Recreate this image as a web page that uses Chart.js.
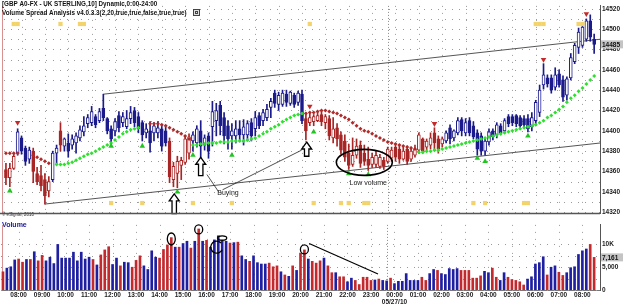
<!DOCTYPE html>
<html>
<head>
<meta charset="utf-8">
<script src="https://cdn.jsdelivr.net/npm/chart.js@4.4.1/dist/chart.umd.min.js"></script>
<style>
  html, body { margin: 0; padding: 0; background: #fff; }
  #wrap { position: relative; width: 625px; height: 306px; overflow: hidden; background: #fff; }
  #priceBox { position: absolute; left: 0; top: 0; }
  #volBox { position: absolute; left: 0; top: 219px; }
</style>
</head>
<body>
<div id="wrap">
  <div id="priceBox"><canvas id="priceChart" width="625" height="219"></canvas></div>
  <div id="volBox"><canvas id="volumeChart" width="625" height="87"></canvas></div>
</div>
<script>
// 10-minute bars, 07:20 -> 08:30 next day
const opens = [
  14362,14354,14363,14378,14393,14383,14372,14380,14358,14356,
  14352,14341,14352,14378,14400,14385,14388,14386,14388,14393,
  14399,14407,14408,14414,14410,14422,14412,14402,14400,14415,
  14408,14404,14412,14420,14414,14408,14398,14400,14398,14398,
  14402,14400,14390,14352,14358,14366,14369,14378,14390,14388,
  14400,14386,14395,14404,14410,14425,14413,14405,14395,14395,
  14402,14396,14396,14408,14402,14415,14410,14413,14423,14437,
  14426,14426,14436,14427,14435,14428,14436,14412,14408,14409,
  14410,14416,14408,14412,14393,14403,14396,14390,14378,14367,
  14376,14386,14378,14372,14367,14367,14365,14371,14370,14373,
  14384,14382,14372,14382,14372,14376,14381,14392,14384,14386,
  14398,14392,14387,14390,14403,14393,14398,14411,14398,14410,
  14405,14398,14395,14380,14389,14400,14396,14405,14400,14414,
  14414,14415,14413,14412,14412,14404,14410,14418,14445,14452,
  14452,14443,14456,14450,14435,14452,14468,14482,14484,14490,
  14508,14490
];
const highs = [
  14368,14368,14378,14402,14395,14385,14384,14383,14364,14366,
  14358,14355,14380,14386,14408,14393,14397,14396,14398,14405,
  14414,14416,14424,14416,14422,14436,14413,14405,14412,14419,
  14418,14420,14424,14423,14418,14410,14407,14409,14408,14409,
  14405,14404,14393,14369,14375,14374,14395,14397,14399,14405,
  14410,14396,14398,14429,14427,14429,14418,14410,14407,14410,
  14410,14411,14410,14412,14419,14418,14421,14426,14432,14440,
  14438,14440,14440,14439,14437,14439,14440,14418,14418,14416,
  14418,14419,14416,14415,14413,14407,14399,14396,14387,14393,
  14392,14390,14386,14384,14378,14380,14377,14374,14384,14384,
  14387,14386,14384,14385,14384,14386,14398,14393,14392,14398,
  14403,14395,14394,14400,14406,14401,14413,14413,14412,14413,
  14409,14401,14398,14392,14402,14402,14408,14407,14412,14416,
  14416,14416,14415,14415,14416,14418,14430,14445,14466,14455,
  14455,14462,14460,14454,14453,14476,14486,14501,14504,14510,
  14514,14495
];
const lows = [
  14347,14345,14362,14376,14377,14366,14368,14349,14347,14341,
  14328,14335,14350,14367,14380,14380,14374,14382,14378,14390,
  14395,14403,14405,14403,14408,14410,14397,14388,14395,14399,
  14404,14402,14407,14404,14398,14390,14393,14379,14390,14393,
  14380,14385,14349,14345,14344,14352,14367,14372,14380,14384,
  14373,14381,14373,14385,14395,14396,14387,14382,14382,14388,
  14390,14386,14390,14390,14395,14402,14405,14410,14413,14423,
  14420,14424,14424,14425,14423,14425,14407,14391,14405,14405,
  14409,14405,14402,14391,14388,14385,14377,14370,14362,14365,
  14373,14364,14366,14361,14364,14364,14363,14362,14368,14370,
  14370,14368,14371,14367,14370,14374,14378,14378,14381,14382,
  14381,14378,14384,14388,14387,14390,14396,14395,14395,14395,
  14392,14376,14376,14376,14386,14391,14393,14396,14398,14404,
  14405,14404,14402,14404,14399,14400,14407,14414,14441,14443,
  14437,14440,14443,14429,14430,14450,14466,14476,14482,14488,
  14488,14476
];
const closes = [
  14354,14363,14375,14399,14380,14370,14381,14360,14350,14346,
  14336,14350,14378,14383,14386,14392,14380,14392,14395,14401,
  14405,14413,14419,14406,14419,14413,14400,14392,14409,14403,
  14414,14412,14418,14408,14402,14396,14402,14388,14405,14403,
  14385,14388,14355,14365,14370,14371,14392,14394,14396,14402,
  14385,14393,14380,14419,14420,14405,14395,14392,14400,14402,
  14396,14404,14407,14395,14413,14405,14418,14421,14429,14427,
  14435,14437,14428,14438,14426,14437,14410,14400,14413,14414,
  14415,14409,14414,14395,14402,14392,14381,14374,14366,14376,
  14385,14368,14370,14366,14374,14376,14374,14365,14382,14381,
  14374,14372,14380,14370,14380,14382,14396,14380,14390,14393,
  14388,14382,14392,14398,14392,14400,14410,14400,14408,14398,
  14394,14382,14380,14390,14399,14394,14406,14398,14410,14407,
  14408,14407,14405,14406,14402,14413,14428,14440,14455,14446,
  14440,14455,14445,14433,14451,14472,14484,14497,14502,14508,
  14492,14485
];
const volumes = [
  4000,4800,5100,6600,6800,6100,6700,6700,8400,6400,
  7600,6400,7200,5800,10000,7000,7000,7000,8300,6400,
  8300,6800,7200,6700,5500,7700,8800,9500,5600,7000,
  5300,6100,6000,5000,6500,7500,5300,4500,8600,7200,
  7000,8900,9900,11500,9400,9400,10200,10700,9200,10700,
  13400,10700,10900,9400,11000,11900,10700,10700,10300,10400,
  10500,7500,6700,6300,7500,6000,5700,5700,5900,5100,
  5300,4000,3300,3000,5300,4300,8100,8800,6800,6300,
  5900,6400,7000,5300,3800,3800,2900,2900,1800,2600,
  2100,1200,2800,2800,2100,2200,2400,2100,2000,2600,
  1400,1900,1900,3600,2100,2100,2100,2800,2100,3600,
  4500,4300,3600,3400,4700,4500,4700,4300,4300,4300,
  2600,2600,3100,4100,3800,4800,2800,2100,3800,2800,
  2300,2100,1800,1100,2400,2900,5700,6000,7300,3300,
  5000,5300,3900,3200,3800,4900,5100,7800,8600,9000,
  10000,7161
];
// 1 = up volume bar, 0 = down volume bar
const volUp = [
  0,1,1,1,0,0,1,0,1,0,
  0,1,1,1,1,1,1,1,1,1,
  1,1,1,0,1,0,0,0,1,1,
  0,1,1,0,0,0,1,1,1,1,
  0,0,0,0,1,0,1,1,0,1,
  0,1,0,1,1,1,1,1,0,1,
  0,1,1,0,1,1,1,1,0,0,
  0,1,0,1,0,1,0,0,1,0,
  0,0,1,0,0,1,0,0,1,1,
  0,0,0,0,0,1,0,1,1,0,
  1,1,1,1,1,1,1,0,0,1,
  1,0,1,1,1,1,1,0,0,0,
  0,0,0,1,1,0,0,1,1,0,
  0,0,0,0,1,1,1,1,1,0,
  1,1,0,0,1,1,1,1,1,1,
  0,0
];
// bars painted in the bearish colour (first, last bar index)
const bearRanges = [[0, 2], [7, 11], [14, 14], [42, 47], [77, 112]];

const resistanceStops = [
  { from: 0, values: [14378, 14378, 14378, 14378] },
  { from: 7, values: [14376, 14374, 14372, 14370, 14368] },
  { from: 37, values: [14407, 14407, 14407, 14406, 14405, 14403, 14401, 14399, 14397, 14395, 14392] },
  { from: 77, values: [14417, 14418, 14418, 14419, 14420, 14420, 14419, 14418, 14417, 14415,
                       14413, 14411, 14408, 14405, 14402, 14400, 14399, 14397, 14395, 14393,
                       14391, 14389, 14388, 14387, 14386, 14385, 14384, 14383, 14382] }
];
const supportStops = [
  { from: 13, values: [14367, 14367, 14367, 14368, 14369, 14371, 14373, 14375, 14377, 14378,
                       14380, 14382, 14384, 14386, 14388, 14391, 14394, 14397, 14399, 14401,
                       14402, 14403] },
  { from: 48, values: [14386, 14386, 14387, 14387, 14388, 14388, 14388, 14389, 14389, 14389,
                       14390, 14390, 14390, 14390, 14391, 14392, 14393, 14395, 14397, 14399,
                       14402, 14404, 14406, 14409, 14411, 14413, 14415, 14416, 14417] },
  { from: 106, values: [14379, 14379, 14380, 14380, 14381, 14381, 14382, 14383, 14384, 14385,
                        14386, 14387, 14388, 14389, 14390, 14391, 14392, 14393, 14394, 14395,
                        14396, 14397, 14398, 14399, 14400, 14401, 14402, 14403, 14404, 14405,
                        14406, 14408, 14410, 14413, 14415, 14418, 14421, 14424, 14428, 14432,
                        14435, 14439, 14442, 14446, 14450, 14454] }
];
// [bar, price]
const buyMarks = [[1, 14341], [27, 14385], [35, 14385], [44, 14340], [48, 14376], [58, 14376],
                  [79, 14399], [88, 14358], [93, 14357], [121, 14373], [123, 14370], [134, 14395]];
const sellMarks = [[3, 14408], [78, 14424], [110, 14407], [138, 14470], [149, 14515]];
const topSignalBars = [2, 3, 14, 19, 20, 78, 136, 137, 138, 147, 148];
const bottomSignalBars = [27, 35, 48, 58, 79, 86, 88, 92, 93, 120, 123, 133, 134];

const channelUpper = [{ x: 25, y: 14436 }, { x: 152.5, y: 14490 }];
const channelLower = [{ x: 10, y: 14328 }, { x: 152.5, y: 14388 }];

const hourLabels = ['08:00', '09:00', '10:00', '11:00', '12:00', '13:00', '14:00', '15:00', '16:00',
  '17:00', '18:00', '19:00', '20:00', '21:00', '22:00', '23:00', '00:00', '01:00', '02:00',
  '03:00', '04:00', '05:00', '06:00', '07:00', '08:00'];
const firstHourBar = 4;
const barsPerHour = 6;
const dayBreakBar = 98;
const dateLabel = '05/27/10';

const priceTicks = [14320, 14340, 14360, 14380, 14400, 14420, 14440, 14460, 14480, 14500, 14520];
const volTicks = [0, 5000, 10000];
const volTickText = ['0', '5,000', '10K'];

// ---------- styles ----------
const BLUE = '#1b1b8c';
const RED = '#a82626';
const VOL_BLUE = '#1f1fa2';
const VOL_RED = '#c22a2e';
const GRID = '#9a9a9a';
const FONT = '"Liberation Sans", Arial, sans-serif';
Chart.defaults.font.family = FONT;

const N = closes.length;
const X_MIN = -0.5, X_MAX = 152.5;
const hourBars = hourLabels.map((_, k) => firstHourBar + k * barsPerHour);

function isBear(i) {
  return bearRanges.some(([a, b]) => i >= a && i <= b);
}
function segPoints(segs) {
  const pts = [];
  segs.forEach(s => s.values.forEach((v, k) => pts.push({ x: s.from + k, y: v })));
  return pts;
}

const idx = closes.map((c, i) => i);
const candleColor = idx.map(i => isBear(i) ? RED : BLUE);

const wickData = idx.map(i => ({ x: i, y: [lows[i], highs[i]] }));
const bodyData = idx.map(i => {
  const lo = Math.min(opens[i], closes[i]);
  const hi = Math.max(opens[i], closes[i]);
  return { x: i, y: [lo, hi - lo < 1 ? lo + 1 : hi] };
});
const bodyFill = idx.map(i => closes[i] > opens[i] ? '#ffffff' : candleColor[i]);

function drawGrid(chart, yValues, yId) {
  const { ctx, chartArea: a, scales } = chart;
  const xs = scales.x, ys = scales[yId];
  ctx.save();
  ctx.strokeStyle = GRID;
  ctx.lineWidth = 1;
  ctx.setLineDash([1, 6]);
  yValues.forEach(v => {
    const py = Math.round(ys.getPixelForValue(v)) + 0.5;
    ctx.beginPath(); ctx.moveTo(a.left, py); ctx.lineTo(a.right, py); ctx.stroke();
  });
  hourBars.forEach(b => {
    const px = Math.round(xs.getPixelForValue(b)) + 0.5;
    ctx.beginPath(); ctx.moveTo(px, a.top); ctx.lineTo(px, a.bottom); ctx.stroke();
  });
  // session break
  ctx.strokeStyle = '#888';
  ctx.setLineDash([1, 2]);
  const bx = Math.round(xs.getPixelForValue(dayBreakBar)) + 0.5;
  ctx.beginPath(); ctx.moveTo(bx, a.top); ctx.lineTo(bx, a.bottom); ctx.stroke();
  // cursor line at the left edge
  ctx.setLineDash([]);
  ctx.strokeStyle = '#d89090';
  ctx.beginPath(); ctx.moveTo(2.5, a.top); ctx.lineTo(2.5, a.bottom); ctx.stroke();
  ctx.restore();
}

function valueBox(chart, yId, value, text) {
  const { ctx, chartArea: a, scales } = chart;
  const py = scales[yId].getPixelForValue(value);
  ctx.save();
  ctx.fillStyle = '#c4c4c4';
  ctx.fillRect(a.right + 1, py - 4, 22, 8);
  ctx.fillStyle = '#111';
  ctx.font = 'bold 6.5px ' + FONT;
  ctx.textBaseline = 'middle';
  ctx.fillText(text, a.right + 2, py + 0.5);
  ctx.restore();
}

function upArrow(ctx, cx, tipY, baseY) {
  const hw = 5, sw = 2.2, hh = 7;
  ctx.beginPath();
  ctx.moveTo(cx, tipY);
  ctx.lineTo(cx + hw, tipY + hh);
  ctx.lineTo(cx + sw, tipY + hh);
  ctx.lineTo(cx + sw, baseY);
  ctx.lineTo(cx - sw, baseY);
  ctx.lineTo(cx - sw, tipY + hh);
  ctx.lineTo(cx - hw, tipY + hh);
  ctx.closePath();
  ctx.fillStyle = '#fff';
  ctx.fill();
  ctx.strokeStyle = '#000';
  ctx.lineWidth = 1.3;
  ctx.stroke();
}

const priceOverlay = {
  id: 'priceOverlay',
  beforeDatasetsDraw(chart) {
    const lines = [];
    for (let p = 14320; p <= 14520; p += 10) lines.push(p);
    drawGrid(chart, lines, 'y');
  },
  afterDatasetsDraw(chart) {
    const { ctx, scales } = chart;
    const X = v => scales.x.getPixelForValue(v);
    const Y = v => scales.y.getPixelForValue(v);
    ctx.save();
    // hand-drawn notes
    ctx.strokeStyle = '#222';
    ctx.lineWidth = 0.8;
    ctx.beginPath();
    ctx.moveTo(X(51.6), Y(14357)); ctx.lineTo(X(54.6), Y(14340));
    ctx.moveTo(X(55.6), Y(14342)); ctx.lineTo(X(75.9), Y(14381));
    ctx.stroke();
    upArrow(ctx, X(43.2), Y(14338), Y(14318.5));
    upArrow(ctx, X(50), Y(14374), Y(14356));
    upArrow(ctx, X(77.2), Y(14389), Y(14375));
    ctx.beginPath();
    ctx.ellipse(X(92), Y(14369), 28, 13, 0, 0, Math.PI * 2);
    ctx.strokeStyle = '#000';
    ctx.lineWidth = 1.6;
    ctx.stroke();
    ctx.fillStyle = '#222';
    ctx.font = '7px ' + FONT;
    ctx.textAlign = 'center';
    ctx.textBaseline = 'middle';
    ctx.fillText('Low volume', X(93), Y(14349));
    ctx.fillText('Buying', X(57), Y(14338.5));
    ctx.restore();
  },
  afterDraw(chart) {
    const { ctx, chartArea: a } = chart;
    ctx.save();
    ctx.fillStyle = '#111';
    ctx.font = 'bold 6.3px ' + FONT;
    ctx.textBaseline = 'middle';
    ctx.fillText('[GBP A0-FX - UK STERLING,10] Dynamic,0:00-24:00', 2, 4.5);
    ctx.fillText('Volume Spread Analysis v4.0.3.3(2,20,true,true,false,true,true)', 2, 13);
    ctx.strokeStyle = '#444';
    ctx.lineWidth = 1;
    ctx.fillStyle = '#ddd';
    ctx.fillRect(193.5, 9.5, 6, 6);
    ctx.strokeRect(193.5, 9.5, 6, 6);
    ctx.strokeRect(195.5, 11.5, 2, 2);
    ctx.fillStyle = '#333';
    ctx.font = '4.5px ' + FONT;
    ctx.fillText('\u00a9 eSignal, 2010', 2, 215);
    // panel separator
    ctx.strokeStyle = '#555';
    ctx.lineWidth = 1.5;
    ctx.beginPath(); ctx.moveTo(0, a.bottom + 0.5); ctx.lineTo(a.right, a.bottom + 0.5); ctx.stroke();
    ctx.restore();
    valueBox(chart, 'y', closes[N - 1], String(closes[N - 1]));
  }
};

const volumeOverlay = {
  id: 'volumeOverlay',
  beforeDatasetsDraw(chart) {
    drawGrid(chart, [0, 2500, 5000, 7500, 10000], 'y');
  },
  afterDatasetsDraw(chart) {
    const { ctx, scales } = chart;
    const X = v => scales.x.getPixelForValue(v);
    const Y = v => scales.y.getPixelForValue(v);
    ctx.save();
    ctx.strokeStyle = '#000';
    ctx.lineWidth = 1.3;
    const rings = [[43, 11200, 4, 6], [50, 13300, 4, 4.5], [77, 8900, 4, 4.5], [56, 11400, 4.5, 2.2]];
    rings.forEach(([b, v, rx, ry]) => {
      ctx.beginPath(); ctx.ellipse(X(b), Y(v), rx, ry, 0, 0, Math.PI * 2); ctx.stroke();
    });
    ctx.beginPath();
    ctx.ellipse(X(54.6), Y(9400), 6, 6, 0, 0.15 * Math.PI, 1.75 * Math.PI);
    ctx.stroke();
    ctx.lineWidth = 1.2;
    ctx.beginPath(); ctx.moveTo(X(78.2), Y(10200)); ctx.lineTo(X(95.8), Y(3500)); ctx.stroke();
    ctx.fillStyle = '#20209a';
    ctx.font = 'bold 7px ' + FONT;
    ctx.textBaseline = 'middle';
    ctx.fillText('Volume', 2, 6);
    ctx.restore();
  },
  afterDraw(chart) {
    valueBox(chart, 'y', volumes[N - 1], volumes[N - 1].toLocaleString('en-US'));
  }
};

const tickFont = { family: FONT, size: 6.5, weight: 'bold' };

new Chart(document.getElementById('priceChart'), {
  type: 'bar',
  data: {
    datasets: [
      { type: 'line', data: channelUpper, borderColor: '#555', borderWidth: 1, pointRadius: 0, order: 6 },
      { type: 'line', data: channelLower, borderColor: '#555', borderWidth: 1, pointRadius: 0, order: 6 },
      { data: wickData, backgroundColor: candleColor, barThickness: 1, grouped: false, order: 5 },
      { data: bodyData, backgroundColor: bodyFill, borderColor: candleColor, borderWidth: 1,
        borderSkipped: false, barThickness: 3, grouped: false, order: 4 },
      { type: 'line', data: segPoints(resistanceStops), showLine: false, pointStyle: 'rectRot',
        pointRadius: 2, pointBackgroundColor: '#b02a2a', pointBorderWidth: 0, order: 3 },
      { type: 'line', data: segPoints(supportStops), showLine: false, pointStyle: 'rectRot',
        pointRadius: 2, pointBackgroundColor: '#2ee02e', pointBorderWidth: 0, order: 3 },
      { type: 'line', data: buyMarks.map(([b, p]) => ({ x: b, y: p })), showLine: false,
        pointStyle: 'triangle', pointRadius: 3.2, pointBackgroundColor: '#22c422', pointBorderWidth: 0, order: 2 },
      { type: 'line', data: sellMarks.map(([b, p]) => ({ x: b, y: p })), showLine: false,
        pointStyle: 'triangle', pointRotation: 180, pointRadius: 3.2, pointBackgroundColor: '#c42a2a',
        pointBorderWidth: 0, order: 2 },
      { type: 'line', data: topSignalBars.map(b => ({ x: b, y: 14505 })), showLine: false,
        pointStyle: 'rect', pointRadius: 3, pointBackgroundColor: '#f2d36c', pointBorderWidth: 0, order: 1 },
      { type: 'line', data: bottomSignalBars.map(b => ({ x: b, y: 14329 })), showLine: false,
        pointStyle: 'rect', pointRadius: 3, pointBackgroundColor: '#f2d36c', pointBorderWidth: 0, order: 1 }
    ]
  },
  options: {
    responsive: false,
    animation: false,
    layout: { padding: { left: 1, right: 0, top: 0, bottom: 1 } },
    plugins: { legend: { display: false }, tooltip: { enabled: false } },
    scales: {
      x: { type: 'linear', min: X_MIN, max: X_MAX, offset: false, display: false },
      y: {
        position: 'right', min: 14319.1, max: 14522.8,
        grid: { display: false, drawTicks: false },
        border: { display: true, color: '#555' },
        ticks: { font: tickFont, color: '#222', padding: 2, callback: v => String(v) },
        afterBuildTicks(s) { s.ticks = priceTicks.map(v => ({ value: v })); },
        afterFit(s) { s.width = 25; }
      }
    }
  },
  plugins: [priceOverlay]
});

new Chart(document.getElementById('volumeChart'), {
  type: 'bar',
  data: {
    datasets: [{
      data: volumes.map((v, i) => ({ x: i, y: v })),
      backgroundColor: volUp.map(u => u ? VOL_BLUE : VOL_RED),
      barThickness: 2,
      grouped: false
    }]
  },
  options: {
    responsive: false,
    animation: false,
    layout: { padding: { left: 1, right: 0, top: 1, bottom: 0 } },
    plugins: { legend: { display: false }, tooltip: { enabled: false } },
    scales: {
      x: {
        type: 'linear', min: X_MIN, max: X_MAX, offset: false,
        grid: { display: false, drawTicks: false },
        border: { display: true, color: '#777' },
        ticks: {
          autoSkip: false, maxRotation: 0, padding: 1, font: tickFont, color: '#222',
          callback: (v, k) => hourLabels[k] === '00:00' ? [hourLabels[k], dateLabel] : hourLabels[k]
        },
        afterBuildTicks(s) { s.ticks = hourBars.map(v => ({ value: v })); },
        afterFit(s) { s.height = 16; }
      },
      y: {
        position: 'right', min: 0, max: 14290,
        grid: { display: false, drawTicks: false },
        border: { display: true, color: '#555' },
        ticks: {
          font: tickFont, color: '#222', padding: 2,
          callback: (v, k) => volTickText[k]
        },
        afterBuildTicks(s) { s.ticks = volTicks.map(v => ({ value: v })); },
        afterFit(s) { s.width = 25; }
      }
    }
  },
  plugins: [volumeOverlay]
});
</script>
</body>
</html>
